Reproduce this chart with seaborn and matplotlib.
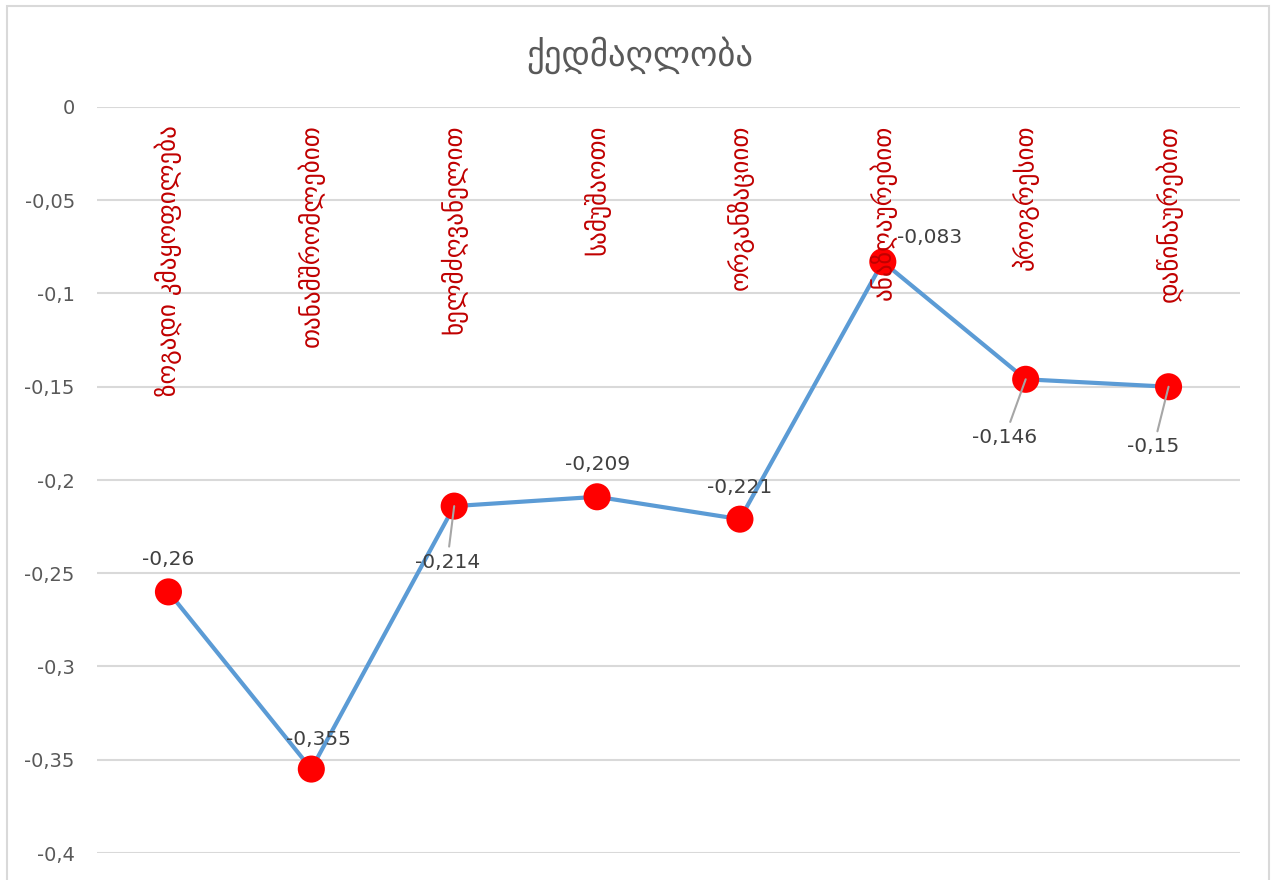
import matplotlib
matplotlib.use("Agg")
import matplotlib.pyplot as plt
import seaborn as sns
import pandas as pd
from matplotlib.patches import Rectangle

categories = ["ზოგადი კმაყოფილება", "თანამშრომლებით", "ხელმძღვანელით", "სამუშაოთი",
              "ორგანზაციით", "ანაზღაურებით", "პროგრესით", "დაწინაურებით"]
values = [-0.26, -0.355, -0.214, -0.209, -0.221, -0.083, -0.146, -0.15]
value_labels = ["-0,26", "-0,355", "-0,214", "-0,209", "-0,221", "-0,083", "-0,146", "-0,15"]
ytick_values = [0, -0.05, -0.1, -0.15, -0.2, -0.25, -0.3, -0.35, -0.4]
ytick_labels = ["0", "-0,05", "-0,1", "-0,15", "-0,2", "-0,25", "-0,3", "-0,35", "-0,4"]
title = "ქედმაღლობა"

sns.set_theme(style="white")
plt.rcParams['font.family'] = ['DejaVu Sans']

W, H = 1277, 880
fig = plt.figure(figsize=(W / 100, H / 100), dpi=100)
ax = fig.add_axes([97 / W, 1 - 853 / H, (1240 - 97) / W, (853 - 107) / H])

df = pd.DataFrame({"pos": list(range(len(categories))), "value": values})
sns.lineplot(data=df, x="pos", y="value", ax=ax, color="#5B9BD5", linewidth=3.0, zorder=2)
sns.scatterplot(data=df, x="pos", y="value", ax=ax, color="#FF0000", s=380,
                edgecolor="none", zorder=3)

ax.set_xlim(-0.5, len(categories) - 0.5)
ax.set_ylim(-0.4, 0)
ax.set_yticks(ytick_values)
ax.set_yticklabels(ytick_labels, fontsize=14, color="#595959")
ax.set_xticks([])
ax.set_xlabel("")
ax.set_ylabel("")
ax.tick_params(axis="y", length=0, pad=16)
ax.grid(axis="y", color="#D9D9D9", linewidth=1.5)
ax.set_axisbelow(True)
for s in ax.spines.values():
    s.set_visible(False)

# category labels (vertical, red)
for i, c in enumerate(categories):
    ax.text(i, -0.0095, c, rotation=90, ha="center", va="top", color="#C00000",
            fontsize=18)

# data labels
offsets = [(0, 32), (7, 30), (-7, -56), (0, 32), (0, 32), (47, 24), (-21, -58), (-15, -60)]
leader = [False, False, True, False, False, False, True, True]
for i, (v, lab) in enumerate(zip(values, value_labels)):
    dx, dy = offsets[i]
    kw = {}
    if leader[i]:
        kw["arrowprops"] = dict(arrowstyle="-", color="#A6A6A6", lw=1.5,
                                shrinkA=2, shrinkB=0)
    ax.annotate(lab, xy=(i, v), xytext=(dx, dy), textcoords="offset pixels",
                ha="center", va="center", fontsize=14.5, color="#404040", zorder=4, **kw)

fig.text(640 / W, 1 - 55 / H, title, ha="center", va="center", fontsize=25, color="#595959")

fig.patches.append(Rectangle((7 / W, -0.05), (1269 - 7) / W, 1.05 - 6 / H,
                             transform=fig.transFigure, fill=False,
                             edgecolor="#D9D9D9", linewidth=1.5))

fig.savefig("out.png", dpi=100, facecolor="white")
